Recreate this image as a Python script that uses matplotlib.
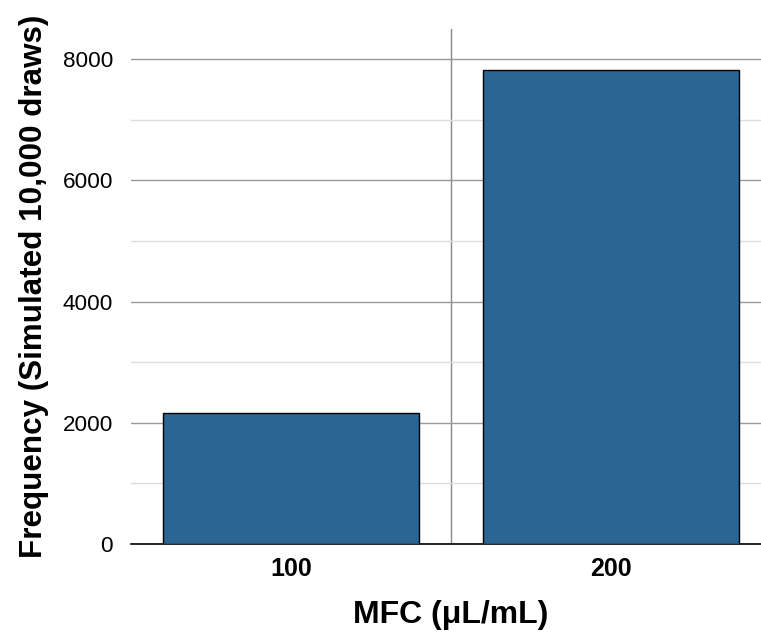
import matplotlib.pyplot as plt
from matplotlib.ticker import MultipleLocator

plt.rcParams['font.family'] = ['Liberation Sans', 'DejaVu Sans']

categories = ["100", "200"]
counts = [2170, 7830]

fig = plt.figure(figsize=(7.61, 6.32), dpi=100)
ax = fig.add_axes([131 / 761, 88 / 632, 640 / 761, 515 / 632])

x = range(len(categories))
ax.bar(x, counts, width=0.8, color="#2a6593", edgecolor="black", linewidth=1, zorder=3)

ax.set_xlim(-0.5, 1.5)
ax.set_ylim(0, 8500)
ax.yaxis.set_major_locator(MultipleLocator(2000))
ax.yaxis.set_minor_locator(MultipleLocator(1000))
ax.grid(axis="y", which="major", color="#999999", linewidth=1, zorder=0)
ax.grid(axis="y", which="minor", color="#dddddd", linewidth=1, zorder=0)
ax.axvline(0.5, color="#888888", linewidth=1, zorder=1)

ax.set_xticks(list(x))
ax.set_xticklabels(categories, fontsize=18, fontweight="bold")
ax.tick_params(axis="y", labelsize=16.2, length=0, pad=13)
ax.tick_params(axis="x", length=0, pad=9)
ax.tick_params(axis="y", which="minor", length=0)

for s in ["left", "right", "top"]:
    ax.spines[s].set_visible(False)
ax.spines["bottom"].set_color("black")
ax.spines["bottom"].set_linewidth(1.2)

ax.set_xlabel("MFC (μL/mL)", fontsize=23, fontweight="bold", labelpad=14)
ax.set_ylabel("Frequency (Simulated 10,000 draws)", fontsize=22.6, fontweight="bold", labelpad=10)

fig.savefig("out.png", dpi=100)
